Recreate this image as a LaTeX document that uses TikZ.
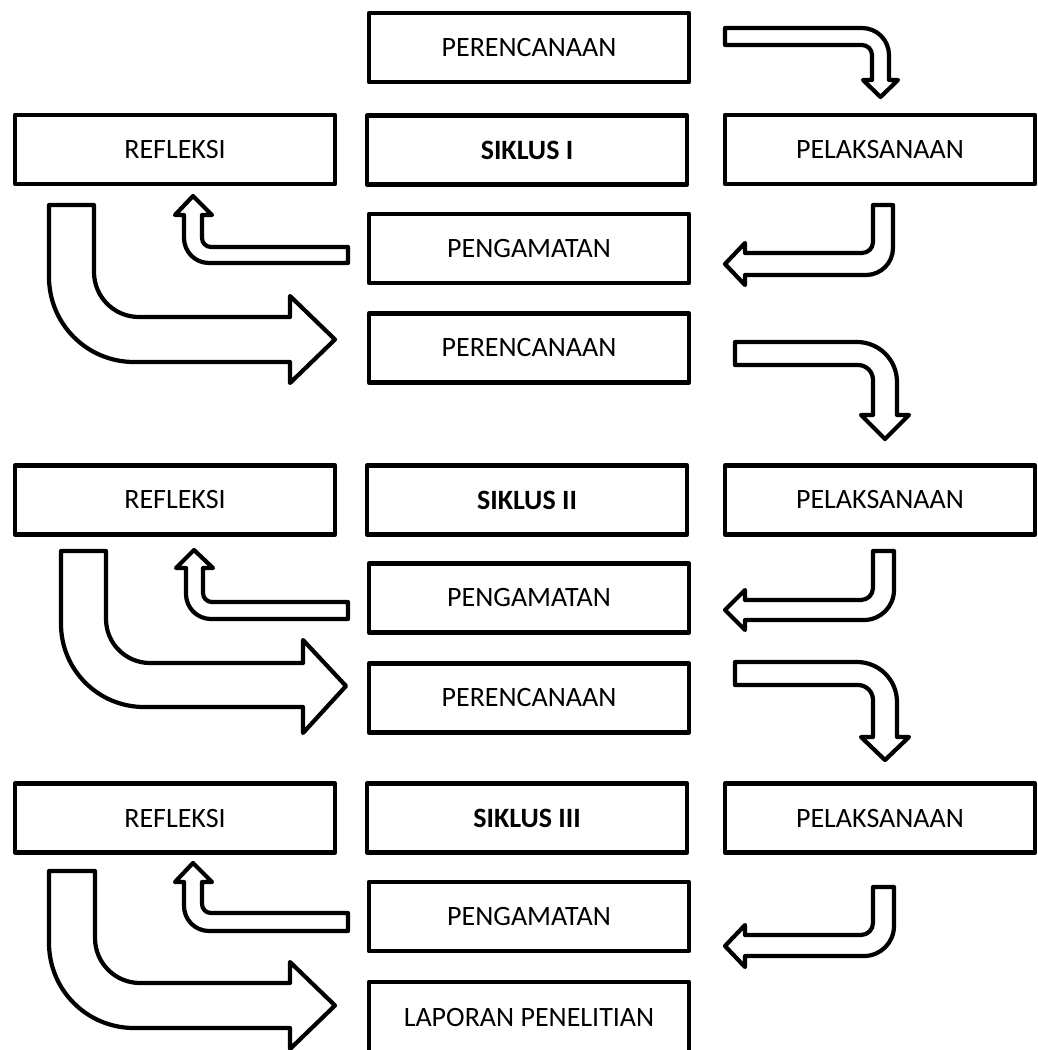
\documentclass[tikz,border=0pt]{standalone}
\usepackage{fontspec}
\setmainfont{Carlito}
\begin{document}
\begin{tikzpicture}[x=1pt,y=-1pt,
  box/.style={draw, line width=4.6pt, line join=round, minimum width=320pt, minimum height=69pt, inner sep=0pt, font=\fontsize{28}{30}\selectfont},
  rbox/.style={box, minimum width=310pt},
  bold/.style={font=\fontsize{28}{30}\selectfont\bfseries},
  barrow/.style={draw, line width=4.2pt, line join=round, fill=white}]
\useasboundingbox (0,0) rectangle (1038,1050);

% ---------- boxes ----------
\node[box] (per1) at (529,47.5) {PERENCANAAN};
\node[box] (ref1) at (175,149.5) {REFLEKSI};
\node[box,bold] (sik1) at (527,150) {SIKLUS I};
\node[rbox] (pel1) at (880,149.5) {PELAKSANAAN};
\node[box] (pen1) at (529,248.5) {PENGAMATAN};
\node[box] (per2) at (529,348) {PERENCANAAN};

\node[box] (ref2) at (175,500) {REFLEKSI};
\node[box,bold] (sik2) at (527,500) {SIKLUS II};
\node[rbox] (pel2) at (880,500) {PELAKSANAAN};
\node[box] (pen2) at (529,598) {PENGAMATAN};
\node[box] (per3) at (529,698) {PERENCANAAN};

\node[box] (ref3) at (175,818) {REFLEKSI};
\node[box,bold] (sik3) at (527,818) {SIKLUS III};
\node[rbox] (pel3) at (880,818) {PELAKSANAAN};
\node[box] (pen3) at (529,916.5) {PENGAMATAN};
\node[box,minimum height=70pt] (lap) at (529,1017) {LAPORAN PENELITIAN};

% ---------- right-then-down arrows (perencanaan -> pelaksanaan) ----------
\draw[barrow] (725,28) -- (862,28) .. controls (876.9,28) and (889,40.1) .. (889,55)
  -- (889,80) -- (898,80) -- (880.5,97) -- (863,80) -- (872,80) -- (872,55)
  .. controls (872,49.5) and (867.5,45) .. (862,45) -- (725,45) -- cycle;
\draw[barrow] (735,342) -- (857,342) .. controls (879.1,342) and (897,359.9) .. (897,382)
  -- (897,415) -- (909,415) -- (885,439) -- (861,415) -- (873,415) -- (873,380)
  .. controls (873,371.7) and (866.3,365) .. (858,365) -- (735,365) -- cycle;
\draw[barrow] (735,662) -- (857,662) .. controls (879.1,662) and (897,679.9) .. (897,702)
  -- (897,737) -- (909,737) -- (885,760) -- (861,737) -- (873,737) -- (873,700)
  .. controls (873,691.7) and (866.3,685) .. (858,685) -- (735,685) -- cycle;

% ---------- down-then-left arrows (pelaksanaan -> pengamatan) ----------
\draw[barrow] (873,205) -- (893,205) -- (893,248) .. controls (893,262.9) and (880.9,275) .. (866,275)
  -- (745,275) -- (745,285) -- (725,264) -- (745,243) -- (745,253) -- (862,253)
  .. controls (868.1,253) and (873,248.1) .. (873,242) -- cycle;
\draw[barrow] (873,551) -- (894,551) -- (894,590) .. controls (894,606.6) and (880.6,620) .. (864,620)
  -- (745,620) -- (745,630) -- (725,610) -- (745,590) -- (745,600) -- (861,600)
  .. controls (867.6,600) and (873,594.6) .. (873,588) -- cycle;
\draw[barrow] (873,887) -- (894,887) -- (894,926) .. controls (894,942.6) and (880.6,956) .. (864,956)
  -- (745,956) -- (745,967) -- (725,946) -- (745,925) -- (745,935) -- (861,935)
  .. controls (867.6,935) and (873,929.6) .. (873,923) -- cycle;

% ---------- small up arrows (pengamatan -> refleksi) ----------
\draw[barrow] (348,247) -- (211,247) .. controls (206,247) and (202,243) .. (202,238)
  -- (202,215) -- (212,215) -- (193,196) -- (175,215) -- (184,215) -- (184,238)
  .. controls (184,251.8) and (195.2,263) .. (209,263) -- (348,263) -- cycle;
\draw[barrow] (348,602) -- (212,602) .. controls (207,602) and (203,598) .. (203,593)
  -- (203,568) -- (213,568) -- (194,550) -- (176,568) -- (186,568) -- (186,594)
  .. controls (186,607.8) and (197.2,619) .. (211,619) -- (348,619) -- cycle;
\draw[barrow] (348,913) -- (211,913) .. controls (206,913) and (202,909) .. (202,904)
  -- (202,882) -- (212,882) -- (193,863) -- (175,882) -- (184,882) -- (184,906)
  .. controls (184,919.8) and (195.2,931) .. (209,931) -- (348,931) -- cycle;

% ---------- large arrows (refleksi -> perencanaan / laporan) ----------
\draw[barrow] (49,205) -- (94,205) -- (94,272) .. controls (94,296.9) and (114.1,317) .. (139,317)
  -- (290,317) -- (290,296) -- (335,339.5) -- (290,383) -- (290,362) -- (134,362)
  .. controls (87,362) and (49,324) .. (49,277) -- cycle;
\draw[barrow] (61,551) -- (106,551) -- (106,619) .. controls (106,643.3) and (125.7,663) .. (150,663)
  -- (303,663) -- (303,640) -- (346,686) -- (303,733) -- (303,707) -- (144,707)
  .. controls (98.2,707) and (61,669.8) .. (61,624) -- cycle;
\draw[barrow] (49,871) -- (95,871) -- (95,938) .. controls (95,962.9) and (115.1,983) .. (140,983)
  -- (290,983) -- (290,962) -- (335,1005.5) -- (290,1049) -- (290,1028) -- (134,1028)
  .. controls (87,1028) and (49,990) .. (49,943) -- cycle;
\end{tikzpicture}
\end{document}
